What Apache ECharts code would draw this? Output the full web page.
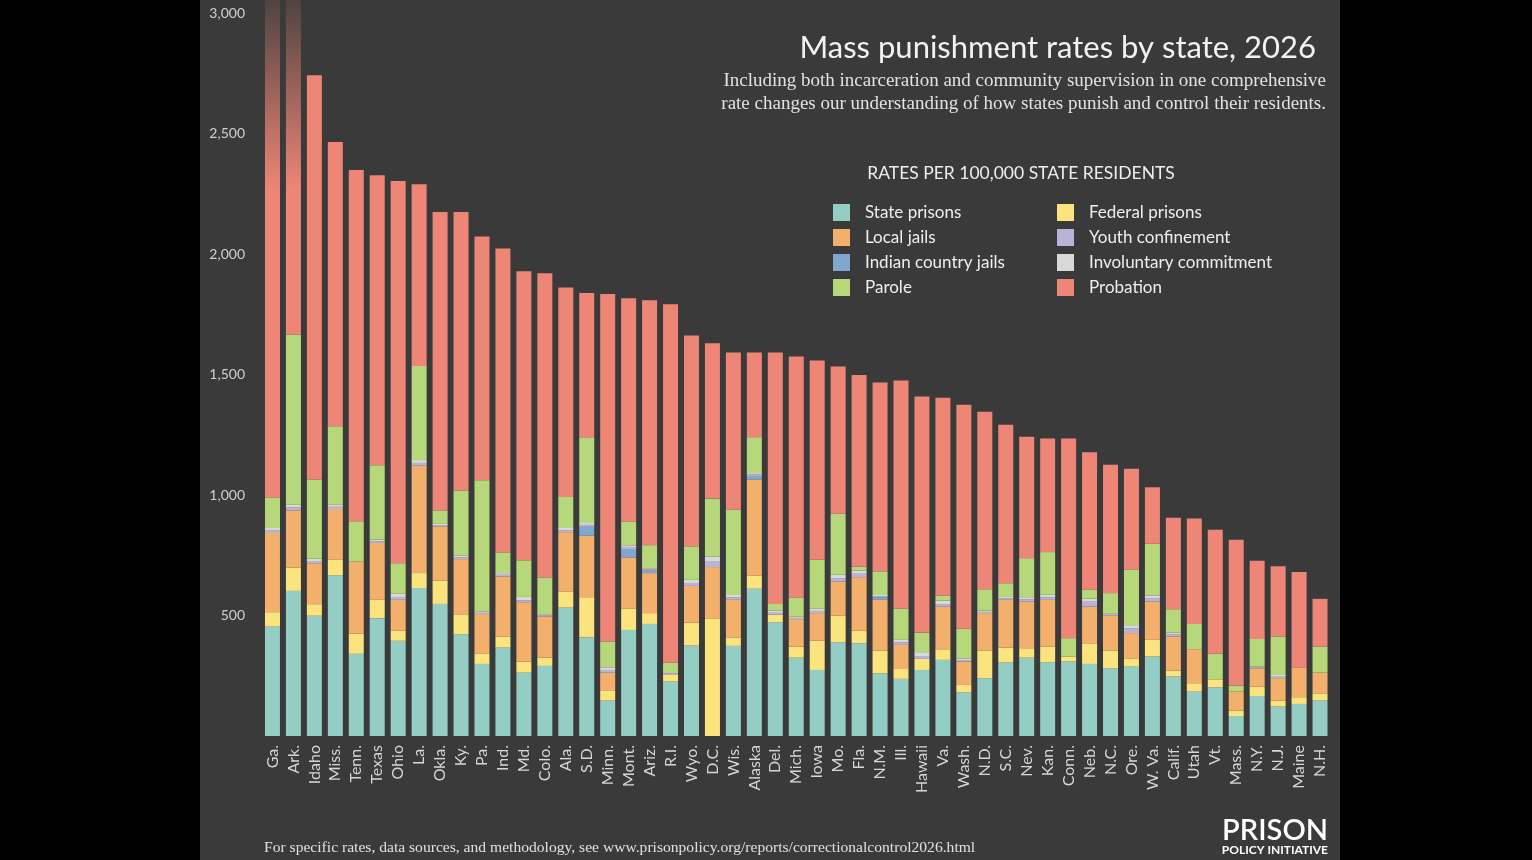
<!DOCTYPE html>
<html>
<head>
<meta charset="utf-8">
<title>Mass punishment rates by state, 2026</title>
<script src="https://cdn.jsdelivr.net/npm/echarts@6/dist/echarts.min.js"></script>
<style>
  body { margin: 0; background: #000; width: 1532px; height: 860px; overflow: hidden; }
  #chart { position: absolute; left: 200px; top: 0; width: 1140px; height: 860px; }
</style>
</head>
<body>
<div id="chart"></div>
<script>
// states, ordered by total rate
const states = ['Ga.', 'Ark.', 'Idaho', 'Miss.', 'Tenn.', 'Texas', 'Ohio', 'La.', 'Okla.', 'Ky.',
  'Pa.', 'Ind.', 'Md.', 'Colo.', 'Ala.', 'S.D.', 'Minn.', 'Mont.', 'Ariz.', 'R.I.',
  'Wyo.', 'D.C.', 'Wis.', 'Alaska', 'Del.', 'Mich.', 'Iowa', 'Mo.', 'Fla.', 'N.M.',
  'Ill.', 'Hawaii', 'Va.', 'Wash.', 'N.D.', 'S.C.', 'Nev.', 'Kan.', 'Conn.', 'Neb.',
  'N.C.', 'Ore.', 'W. Va.', 'Calif.', 'Utah', 'Vt.', 'Mass.', 'N.Y.', 'N.J.', 'Maine', 'N.H.']

// rates per 100,000 residents
const statePrisons = [454, 602, 499, 666, 341, 489, 395, 614, 548, 422,
  299, 367, 263, 291, 533, 409, 147, 440, 465, 226,
  375, 0, 374, 611, 472, 325, 274, 389, 385, 260,
  237, 274, 316, 181, 240, 305, 325, 306, 309, 299,
  281, 288, 330, 247, 184, 202, 83, 166, 122, 133, 147]
const federalPrisons = [60, 97, 48, 65, 83, 76, 43, 62, 97, 83,
  44, 46, 46, 34, 67, 167, 40, 88, 45, 30,
  96, 486, 35, 54, 31, 46, 122, 111, 53, 95,
  41, 46, 44, 31, 115, 62, 36, 65, 21, 83,
  74, 32, 69, 24, 35, 33, 22, 39, 25, 28, 30]
const localJails = [328, 237, 170, 211, 300, 236, 127, 446, 225, 229,
  163, 249, 246, 171, 246, 255, 76, 213, 166, 0,
  152, 215, 156, 399, 0, 114, 114, 141, 221, 210,
  100, 0, 177, 97, 155, 198, 197, 194, 0, 155,
  144, 107, 159, 142, 141, 0, 79, 76, 93, 124, 86]
const indianCountryJails = [0, 0, 0, 0, 0, 0, 0, 0, 0, 0,
  0, 0, 0, 0, 0, 37, 0, 35, 10, 0,
  0, 0, 0, 15, 0, 0, 0, 0, 0, 10,
  0, 0, 0, 0, 0, 0, 0, 0, 0, 0,
  0, 0, 0, 0, 0, 0, 0, 0, 0, 0, 0]
const youthConfinement = [10, 12, 9, 9, 0, 7, 12, 11, 5, 7,
  5, 7, 8, 4, 8, 8, 11, 8, 5, 4,
  12, 22, 10, 6, 8, 5, 9, 14, 14, 5,
  10, 12, 10, 6, 5, 6, 9, 10, 0, 20,
  4, 20, 12, 8, 0, 0, 0, 3, 6, 0, 0]
const involuntaryCommitment = [11, 12, 9, 9, 0, 7, 13, 12, 5, 7,
  5, 7, 14, 5, 9, 8, 11, 7, 5, 5,
  13, 22, 10, 6, 9, 6, 9, 14, 14, 5,
  11, 16, 15, 7, 5, 6, 9, 11, 0, 13,
  4, 13, 13, 8, 0, 0, 0, 4, 7, 0, 0]
const parole = [127, 706, 329, 325, 167, 308, 127, 390, 56, 271,
  545, 86, 152, 153, 129, 356, 107, 98, 96, 40,
  139, 240, 354, 149, 28, 79, 203, 253, 15, 98,
  129, 81, 20, 123, 89, 57, 162, 177, 76, 37,
  86, 230, 215, 97, 105, 106, 24, 115, 160, 0, 108]
const probation = [2900, 1500, 1678, 1180, 1458, 1204, 1586, 754, 1238, 1155,
  1012, 1261, 1199, 1262, 869, 598, 1442, 927, 1016, 1486,
  875, 645, 652, 351, 1043, 1000, 827, 611, 796, 784,
  947, 980, 822, 930, 736, 657, 504, 471, 828, 570,
  533, 419, 234, 380, 438, 515, 606, 324, 291, 395, 198]

const yTicks = [0, 500, 1000, 1500, 2000, 2500, 3000]

const colors = {
  state: '#93cdc4',
  federal: '#fbe47d',
  jail: '#f3b06c',
  indian: '#80a8cf',
  youth: '#b9b3d8',
  invol: '#d9d9d9',
  parole: '#b6d87b',
  probation: '#ee8677'
}

const chart = echarts.init(document.getElementById('chart'))

// the two off-the-chart bars fade out towards the top
const fade = new echarts.graphic.LinearGradient(0, 0, 0, 190, [
  { offset: 0, color: 'rgba(238,134,119,0.12)' },
  { offset: 1, color: colors.probation }
], true)
const probationData = probation.map(function (v, i) {
  return i < 2 ? { value: v, itemStyle: { color: fade } } : v
})

function layer (name, data, color) {
  return {
    name: name,
    type: 'bar',
    stack: 'total',
    barWidth: 15,
    clip: false,
    itemStyle: { color: color },
    emphasis: { disabled: true },
    data: data
  }
}

const legendText = { color: '#eeeeee', fontSize: 17, fontFamily: 'Lato', padding: [0, 0, 0, 10] }

chart.setOption({
  backgroundColor: '#3a3a3a',
  animation: false,
  grid: { left: 62, right: 9.5, top: 13, bottom: 124 },
  legend: [{
    orient: 'vertical',
    left: 628,
    top: 199,
    itemWidth: 17,
    itemHeight: 17,
    itemGap: 8,
    icon: 'rect',
    textStyle: legendText,
    data: ['State prisons', 'Local jails', 'Indian country jails', 'Parole']
  }, {
    orient: 'vertical',
    left: 852,
    top: 199,
    itemWidth: 17,
    itemHeight: 17,
    itemGap: 8,
    icon: 'rect',
    textStyle: legendText,
    data: ['Federal prisons', 'Youth confinement', 'Involuntary commitment', 'Probation']
  }],
  xAxis: {
    type: 'category',
    data: states,
    axisLine: { show: false },
    axisTick: { show: false },
    axisLabel: {
      interval: 0,
      rotate: 90,
      margin: 9,
      color: '#d6d6d6',
      fontSize: 16,
      fontFamily: 'Lato'
    }
  },
  yAxis: {
    type: 'value',
    min: yTicks[0],
    max: yTicks[yTicks.length - 1],
    interval: 500,
    splitLine: { show: false },
    axisLine: { show: false },
    axisTick: { show: false },
    axisLabel: {
      margin: 17,
      color: '#d0d0d0',
      fontSize: 14,
      fontFamily: 'Lato',
      formatter: function (v) { return v === 0 ? '' : v.toLocaleString('en-US') }
    }
  },
  series: [
    layer('State prisons', statePrisons, colors.state),
    layer('Federal prisons', federalPrisons, colors.federal),
    layer('Local jails', localJails, colors.jail),
    layer('Indian country jails', indianCountryJails, colors.indian),
    layer('Youth confinement', youthConfinement, colors.youth),
    layer('Involuntary commitment', involuntaryCommitment, colors.invol),
    layer('Parole', parole, colors.parole),
    layer('Probation', probationData, colors.probation)
  ],
  graphic: [
    {
      type: 'text',
      style: { text: 'Mass punishment rates by state, 2026', x: 1116, y: 48, fill: '#f2f2f2',
        font: '31px Lato', align: 'right', verticalAlign: 'middle' }
    },
    {
      type: 'text',
      style: { text: 'Including both incarceration and community supervision in one comprehensive', x: 1126, y: 81,
        fill: '#e2e2e2', font: '19px "Liberation Serif"', align: 'right', verticalAlign: 'middle' }
    },
    {
      type: 'text',
      style: { text: 'rate changes our understanding of how states punish and control their residents.', x: 1126, y: 104,
        fill: '#e2e2e2', font: '19px "Liberation Serif"', align: 'right', verticalAlign: 'middle' }
    },
    {
      type: 'text',
      style: { text: 'RATES PER 100,000 STATE RESIDENTS', x: 821, y: 173, fill: '#eeeeee',
        font: '17.5px Lato', align: 'center', verticalAlign: 'middle' }
    },
    {
      type: 'text',
      style: { text: 'For specific rates, data sources, and methodology, see www.prisonpolicy.org/reports/correctionalcontrol2026.html',
        x: 64, y: 848, fill: '#e0e0e0', font: '15.6px "Liberation Serif"', align: 'left', verticalAlign: 'middle' }
    },
    {
      type: 'text',
      style: { text: 'PRISON', x: 1128, y: 831, fill: '#ffffff', font: '600 29px Lato', align: 'right', verticalAlign: 'middle' }
    },
    {
      type: 'text',
      style: { text: 'POLICY INITIATIVE', x: 1128, y: 850, fill: '#ffffff', font: 'bold 12px Lato', align: 'right', verticalAlign: 'middle' }
    }
  ]
})
</script>
</body>
</html>
